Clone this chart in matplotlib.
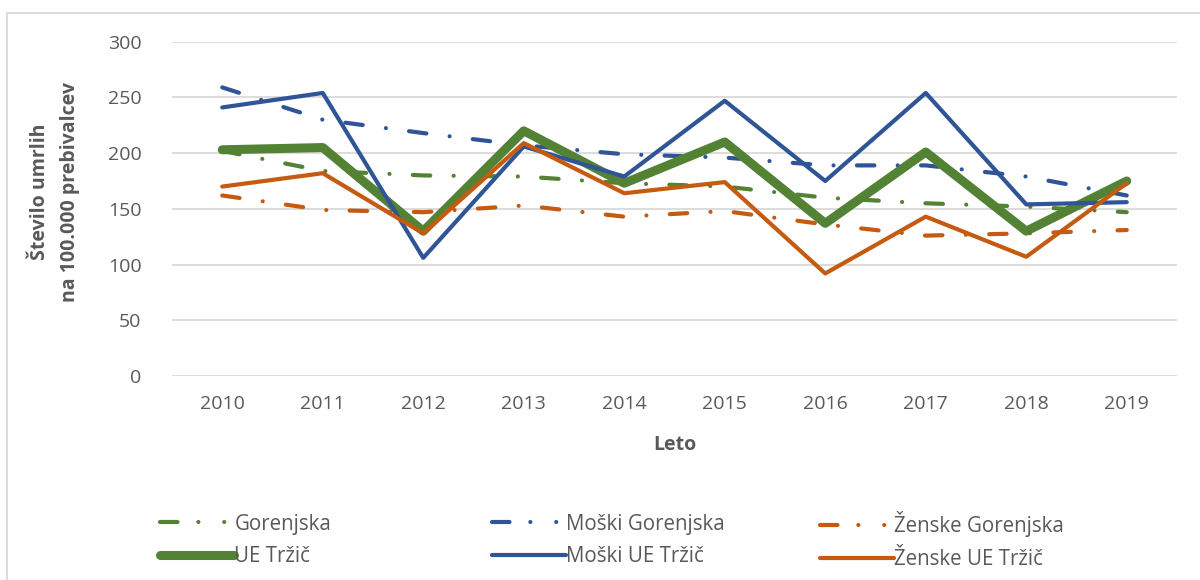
import matplotlib
matplotlib.use("Agg")
import matplotlib.pyplot as plt
from matplotlib.patches import Rectangle

plt.rcParams['font.family'] = ['Open Sans', 'DejaVu Sans']

years = ["2010", "2011", "2012", "2013", "2014", "2015", "2016", "2017", "2018", "2019"]
gorenjska = [202, 184, 180, 179, 173, 170, 160, 155, 152, 147]
moski_gorenjska = [259, 230, 218, 207, 199, 196, 189, 189, 179, 162]
zenske_gorenjska = [162, 149, 147, 153, 143, 148, 136, 126, 128, 131]
ue_trzic = [203, 205, 130, 220, 173, 210, 137, 201, 130, 175]
moski_ue_trzic = [241, 254, 106, 206, 179, 247, 175, 254, 154, 156]
zenske_ue_trzic = [170, 182, 128, 209, 164, 174, 92, 143, 107, 173]

GREEN = "#548235"
BLUE = "#2F5597"
ORANGE = "#C55A11"
TXT = "#595959"

fig = plt.figure(figsize=(12, 5.8), dpi=100)
ax = fig.add_axes([172/1200, 1-376/580, (1177-172)/1200, (376-41.7)/580])

x = list(range(len(years)))
dd = (0, (4.2, 5.6, 0.01, 5.6))
dd_leg = (0, (4.2, 5.0, 0.01, 6.2, 0.01, 20))

series = [
    ("Gorenjska", gorenjska, GREEN, 3.0, dd),
    ("Moški Gorenjska", moski_gorenjska, BLUE, 3.0, dd),
    ("Ženske Gorenjska", zenske_gorenjska, ORANGE, 3.0, dd),
    ("UE Tržič", ue_trzic, GREEN, 6.5, "-"),
    ("Moški UE Tržič", moski_ue_trzic, BLUE, 3.0, "-"),
    ("Ženske UE Tržič", zenske_ue_trzic, ORANGE, 3.0, "-"),
]
handles = []
for name, vals, col, lw, ls in series:
    h, = ax.plot(x, vals, color=col, lw=lw, linestyle=ls, label=name,
                 solid_capstyle="round", dash_capstyle="round",
                 solid_joinstyle="round", zorder=3)
    handles.append(h)

ax.set_xlim(-0.5, len(years) - 0.5)
ax.set_ylim(0, 300)
ax.set_yticks(range(0, 301, 50))
ax.set_xticks(x)
ax.set_xticklabels(years)
ax.grid(axis="y", color="#D9D9D9", lw=1.3, zorder=0)
ax.set_axisbelow(True)
for s in ax.spines.values():
    s.set_visible(False)
ax.tick_params(axis="both", length=0, labelsize=14, labelcolor=TXT)
ax.tick_params(axis="y", pad=22)
ax.tick_params(axis="x", pad=14)

fig.text(675/1200, 1-445/580, "Leto", ha="center", va="center",
         fontsize=14, fontweight="bold", color=TXT)
fig.text(55/1200, 1-192/580, "Število umrlih\nna 100.000 prebivalcev",
         rotation=90, ha="center", va="center", multialignment="center",
         fontsize=14, fontweight="bold", color=TXT, linespacing=1.7)

# legends: three columns, two rows
col_x = [150/1200, 482/1200, 810/1200]
for i in range(3):
    leg = fig.legend([handles[i], handles[i + 3]],
                     [series[i][0], series[i + 3][0]],
                     loc="center left", bbox_to_anchor=(col_x[i], 1-540.5/580),
                     frameon=False, fontsize=14.8, labelcolor=TXT,
                     handlelength=3.6, handletextpad=0.0, labelspacing=0.58,
                     borderpad=0)
    leg.get_lines()[0].set_linestyle(dd_leg)

fig.patches.append(Rectangle((7/1200, -0.1), 1.2, 1-13/580+0.1,
                             transform=fig.transFigure, fill=False,
                             edgecolor="#D9D9D9", lw=1.3))

fig.savefig("out.png", dpi=100)
